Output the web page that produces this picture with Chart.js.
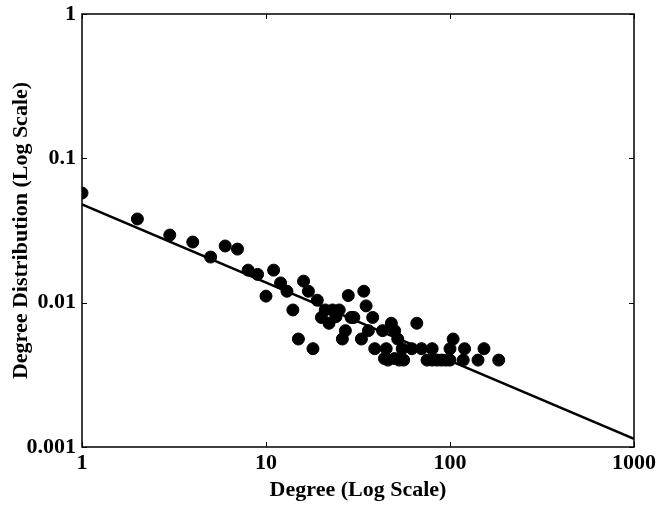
<!DOCTYPE html>
<html>
<head>
  <meta charset="UTF-8">
  <title>Degree Distribution</title>
  <style>
    html, body { margin: 0; padding: 0; background: white; }
    .container { width: 660px; height: 511px; }
  </style>
</head>
<body>
  <div class="container">
    <canvas id="degree-chart" width="660" height="511"></canvas>
  </div>

  <script src="https://cdn.jsdelivr.net/npm/chart.js@4.4.0/dist/chart.umd.min.js"></script>
  <script>
    const DEGREES = [
      1, 2, 3, 4, 5, 6, 7, 8, 9, 10,
      11, 12, 13, 14, 15, 16, 17, 18, 19, 20,
      21, 22, 23, 24, 25, 26, 27, 28, 29, 30,
      33, 34, 35, 36, 38, 39, 43, 44, 45, 46,
      48, 50, 50, 52, 53, 55, 56, 62, 66, 70,
      75, 80, 80, 85, 90, 95, 100, 100, 104, 118,
      120, 142, 153, 184
    ];
    const DISTRIBUTION = [
      0.0575, 0.038, 0.0294, 0.0263, 0.0207, 0.0247, 0.0235, 0.0168, 0.0157, 0.0111,
      0.0168, 0.0137, 0.012, 0.0089, 0.0056, 0.0141, 0.012, 0.0048, 0.0104, 0.0079,
      0.0089, 0.0072, 0.0089, 0.008, 0.0089, 0.0056, 0.0064, 0.0112, 0.0079, 0.0079,
      0.0056, 0.012, 0.0095, 0.0064, 0.0079, 0.0048, 0.0064, 0.0041, 0.0048, 0.004,
      0.0072, 0.0064, 0.0041, 0.0056, 0.004, 0.0048, 0.004, 0.0048, 0.0072, 0.0048,
      0.004, 0.0048, 0.004, 0.004, 0.004, 0.004, 0.0048, 0.004, 0.0056, 0.004,
      0.0048, 0.004, 0.0048, 0.004
    ];
    const FIT_X = [1, 1000];
    const FIT_Y = [0.048, 0.00114];
    const X_TICKS = [1, 10, 100, 1000];
    const Y_TICKS = [0.001, 0.01, 0.1, 1];

    const FONT = 'Liberation Serif, Times New Roman, serif';

    // box round the plot, with short ticks pointing inward on all four sides
    const frame = {
      id: 'frame',
      afterDraw(chart) {
        const { ctx, chartArea: a, scales } = chart;
        ctx.save();
        ctx.strokeStyle = '#000';
        ctx.lineWidth = 1.5;
        ctx.strokeRect(a.left, a.top, a.right - a.left, a.bottom - a.top);
        ctx.lineWidth = 1;
        const len = 5;
        ctx.beginPath();
        for (const v of X_TICKS) {
          const x = Math.round(scales.x.getPixelForValue(v)) + 0.5;
          ctx.moveTo(x, a.bottom); ctx.lineTo(x, a.bottom - len);
          ctx.moveTo(x, a.top); ctx.lineTo(x, a.top + len);
        }
        for (const v of Y_TICKS) {
          const y = Math.round(scales.y.getPixelForValue(v)) + 0.5;
          ctx.moveTo(a.left, y); ctx.lineTo(a.left + len, y);
          ctx.moveTo(a.right, y); ctx.lineTo(a.right - len, y);
        }
        ctx.stroke();
        ctx.restore();
      }
    };

    const ctx = document.getElementById('degree-chart');
    new Chart(ctx, {
      data: {
        datasets: [
          {
            type: 'scatter',
            data: DEGREES.map((d, i) => ({ x: d, y: DISTRIBUTION[i] })),
            backgroundColor: '#000',
            borderColor: '#000',
            pointRadius: 6,
            pointHoverRadius: 6
          },
          {
            type: 'line',
            data: FIT_X.map((d, i) => ({ x: d, y: FIT_Y[i] })),
            borderColor: '#000',
            borderWidth: 2.5,
            pointRadius: 0,
            fill: false
          }
        ]
      },
      plugins: [frame],
      options: {
        responsive: false,
        animation: false,
        layout: { padding: { top: 14, right: 26, left: 0, bottom: 0 } },
        plugins: {
          legend: { display: false },
          tooltip: { enabled: false }
        },
        scales: {
          x: {
            type: 'logarithmic',
            min: 1,
            max: 1000,
            afterBuildTicks: (s) => { s.ticks = X_TICKS.map(v => ({ value: v })); },
            afterFit: (s) => { s.height = 64; s.paddingLeft = 0; s.paddingRight = 0; },
            grid: { display: false, drawTicks: false },
            border: { display: false },
            ticks: {
              color: '#000',
              padding: 3,
              maxRotation: 0,
              font: { family: FONT, size: 22, weight: 'bold' },
              callback: (v) => String(v)
            },
            title: {
              display: true,
              text: 'Degree (Log Scale)',
              color: '#000',
              padding: { top: 0, bottom: 7 },
              font: { family: FONT, size: 22, weight: 'bold' }
            }
          },
          y: {
            type: 'logarithmic',
            min: 0.001,
            max: 1,
            afterBuildTicks: (s) => { s.ticks = Y_TICKS.map(v => ({ value: v })); },
            afterFit: (s) => { s.width = 82; s.paddingTop = 0; s.paddingBottom = 0; },
            grid: { display: false, drawTicks: false },
            border: { display: false },
            ticks: {
              color: '#000',
              padding: 6,
              font: { family: FONT, size: 22, weight: 'bold' },
              callback: (v) => String(v)
            },
            title: {
              display: true,
              text: 'Degree Distribution (Log Scale)',
              color: '#000',
              padding: { top: 8, bottom: 0 },
              font: { family: FONT, size: 22, weight: 'bold' }
            }
          }
        }
      }
    });
  </script>
</body>
</html>
